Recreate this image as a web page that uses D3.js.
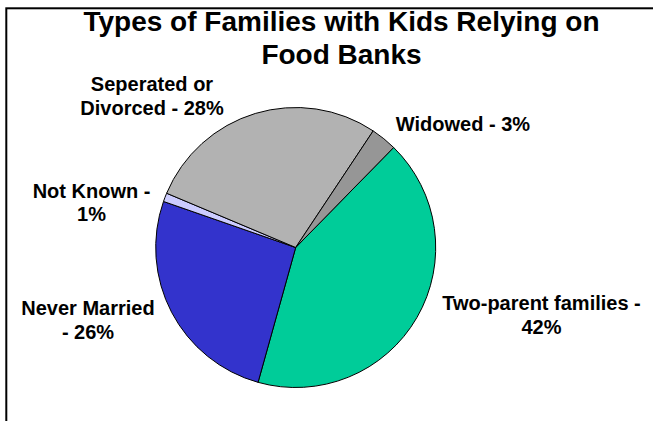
<!DOCTYPE html>
<html>
<head>
<meta charset="utf-8">
<script src="https://cdn.jsdelivr.net/npm/d3@7"></script>
<style>
  body { margin: 0; background: #fff; }
  text { font-family: "Liberation Sans", Arial, sans-serif; font-weight: bold; fill: #000; }
</style>
</head>
<body>
<div id="pie-chart"></div>
<script>
// data, in the order the slices run clockwise
const categories = ["Two-parent families", "Never Married", "Not Known", "Seperated or Divorced", "Widowed"];
const percents = [42, 26, 1, 28, 3];
const labelLines = [
    ["Two-parent families -", "42%"],
    ["Never Married", "- 26%"],
    ["Not Known -", "1%"],
    ["Seperated or", "Divorced - 28%"],
    ["Widowed - 3%"]
];
const colors = ["#00cc99", "#3333cc", "#ccccff", "#b2b2b2", "#969696"];

(function() {
    var width = 653;
    var height = 421;
    var cx = 295.7, cy = 247.5, radius = 140;
    var startDeg = 44.4;

    // label centres (layout only)
    var labelCentres = [[541.5, 315], [88, 320], [91.5, 202.5], [152, 96], [463, 124]];

    var svg = d3.select("#pie-chart")
        .append("svg")
        .attr("width", width)
        .attr("height", height);

    // chart frame (only left and top edges fall inside the window)
    svg.append("rect")
        .attr("x", 6.3)
        .attr("y", 8.3)
        .attr("width", 800)
        .attr("height", 600)
        .attr("fill", "none")
        .attr("stroke", "#000")
        .attr("stroke-width", 2);

    svg.append("text")
        .attr("x", 341.5)
        .attr("y", 31)
        .attr("text-anchor", "middle")
        .style("font-size", "28px")
        .text("Types of Families with Kids Relying on");

    svg.append("text")
        .attr("x", 341.5)
        .attr("y", 63.5)
        .attr("text-anchor", "middle")
        .style("font-size", "28px")
        .text("Food Banks");

    var data = categories.map((c, i) => ({ name: c, value: percents[i], lines: labelLines[i], color: colors[i] }));

    var pie = d3.pie()
        .value(d => d.value)
        .sort(null)
        .startAngle(startDeg * Math.PI / 180)
        .endAngle(startDeg * Math.PI / 180 + 2 * Math.PI);

    var arc = d3.arc()
        .innerRadius(0)
        .outerRadius(radius);

    var g = svg.append("g")
        .attr("transform", `translate(${cx}, ${cy})`);

    g.selectAll("path")
        .data(pie(data))
        .enter()
        .append("path")
        .attr("d", arc)
        .attr("fill", d => d.data.color)
        .attr("stroke", "#000")
        .attr("stroke-width", 1);

    var lineGap = 23.5;
    var labels = svg.selectAll(".label")
        .data(data)
        .enter()
        .append("text")
        .attr("class", "label")
        .attr("text-anchor", "middle")
        .style("font-size", "20px");

    labels.each(function(d, i) {
        var n = d.lines.length;
        var c = labelCentres[i];
        // baseline of the first line so the block is centred on c
        var y0 = c[1] + 7 - (n - 1) * lineGap / 2;
        d3.select(this).selectAll("tspan")
            .data(d.lines)
            .enter()
            .append("tspan")
            .attr("x", c[0])
            .attr("y", (t, k) => y0 + k * lineGap)
            .text(t => t);
    });
})();
</script>
</body>
</html>
